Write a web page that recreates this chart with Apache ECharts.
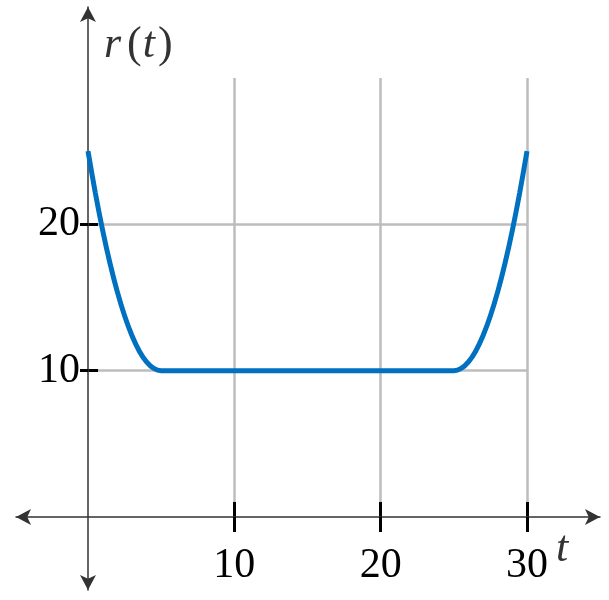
<!DOCTYPE html>
<html><head><meta charset="utf-8">
<script src="https://cdn.jsdelivr.net/npm/echarts@6/dist/echarts.min.js"></script>
<style>html,body{margin:0;padding:0;background:#fff}#c{width:609px;height:600px}</style>
</head><body><div id="c"></div>
<script>
// values
const tLeft  = [0, 0.5, 1, 1.5, 2, 2.5, 3, 3.5, 4, 4.5, 5];
const rLeft  = [25, 22.15, 19.6, 17.35, 15.4, 13.75, 12.4, 11.35, 10.6, 10.15, 10];
const tRight = [25, 25.5, 26, 26.5, 27, 27.5, 28, 28.5, 29, 29.5, 30];
const rRight = [10, 10.15, 10.6, 11.35, 12.4, 13.75, 15.4, 17.35, 19.6, 22.15, 25];
const xTicks = [10, 20, 30];
const yTicks = [10, 20];

const data = [];
tLeft.forEach((t, i) => data.push([t, rLeft[i]]));
tRight.forEach((t, i) => data.push([t, rRight[i]]));

const FONT = '"Liberation Serif", "DejaVu Serif", serif';
const tickStyle = { color: '#000', width: 3 };
const axisStyle = { color: '#333', width: 1.5 };
const gridStyle = { color: '#bdbdbd', width: 2.5 };

const chart = echarts.init(document.getElementById('c'));
chart.setOption({
  animation: false,
  backgroundColor: '#fff',
  grid: [
    { left: 88, right: 82, top: 78, bottom: 83, containLabel: false, outerBoundsMode: 'none' },
    { left: 16, right: 9, top: 7, bottom: 10, containLabel: false, outerBoundsMode: 'none' }
  ],
  xAxis: [
    { gridIndex: 0, type: 'value', min: 0, max: 30, interval: 10,
      axisLine: { show: false },
      axisTick: { show: true, inside: true, length: 15, customValues: xTicks, lineStyle: tickStyle },
      axisLabel: { show: true, customValues: xTicks, margin: 28, fontSize: 42, fontFamily: FONT, color: '#000' },
      splitLine: { show: true, lineStyle: gridStyle } },
    { gridIndex: 1, type: 'value', min: -4.92, max: 34.99, z: 1,
      axisLine: { show: true, onZero: true, symbol: ['arrow', 'arrow'], symbolSize: [12, 15], lineStyle: axisStyle },
      axisTick: { show: true, length: 15, customValues: xTicks, lineStyle: tickStyle },
      axisLabel: { show: false },
      splitLine: { show: false } }
  ],
  yAxis: [
    { gridIndex: 0, type: 'value', min: 0, max: 30, interval: 10,
      axisLine: { show: false },
      axisTick: { show: true, inside: true, length: 10, customValues: yTicks, lineStyle: tickStyle },
      axisLabel: { show: true, customValues: yTicks, margin: 8, fontSize: 42, fontFamily: FONT, color: '#000' },
      splitLine: { show: true, lineStyle: gridStyle } },
    { gridIndex: 1, type: 'value', min: -4.99, max: 34.85, z: 1,
      axisLine: { show: true, onZero: true, symbol: ['arrow', 'arrow'], symbolSize: [12, 15], lineStyle: axisStyle },
      axisTick: { show: true, length: 8, customValues: yTicks, lineStyle: tickStyle },
      axisLabel: { show: false },
      splitLine: { show: false } }
  ],
  series: [{
    type: 'line', xAxisIndex: 0, yAxisIndex: 0, data: data,
    showSymbol: false, smooth: 0.3, z: 3,
    lineStyle: { color: '#0070c0', width: 5 }
  }],
  graphic: [
    { type: 'text', x: 104, y: 45, z: 10,
      style: { text: '{i|r}{p|(}{t|t}{p|)}', font: '44px ' + FONT, fill: '#333', verticalAlign: 'middle',
        rich: {
          i: { fontStyle: 'italic', fontSize: 44, fontFamily: FONT, color: '#333', padding: [0, 6, 0, 0] },
          t: { fontStyle: 'italic', fontSize: 44, fontFamily: FONT, color: '#333', padding: [0, 3, 0, 1] },
          p: { fontSize: 44, fontFamily: FONT, color: '#333' }
        } } },
    { type: 'text', x: 556, y: 549, z: 10,
      style: { text: 't', font: 'italic 44px ' + FONT, fill: '#333', verticalAlign: 'middle' } }
  ]
});
</script></body></html>
